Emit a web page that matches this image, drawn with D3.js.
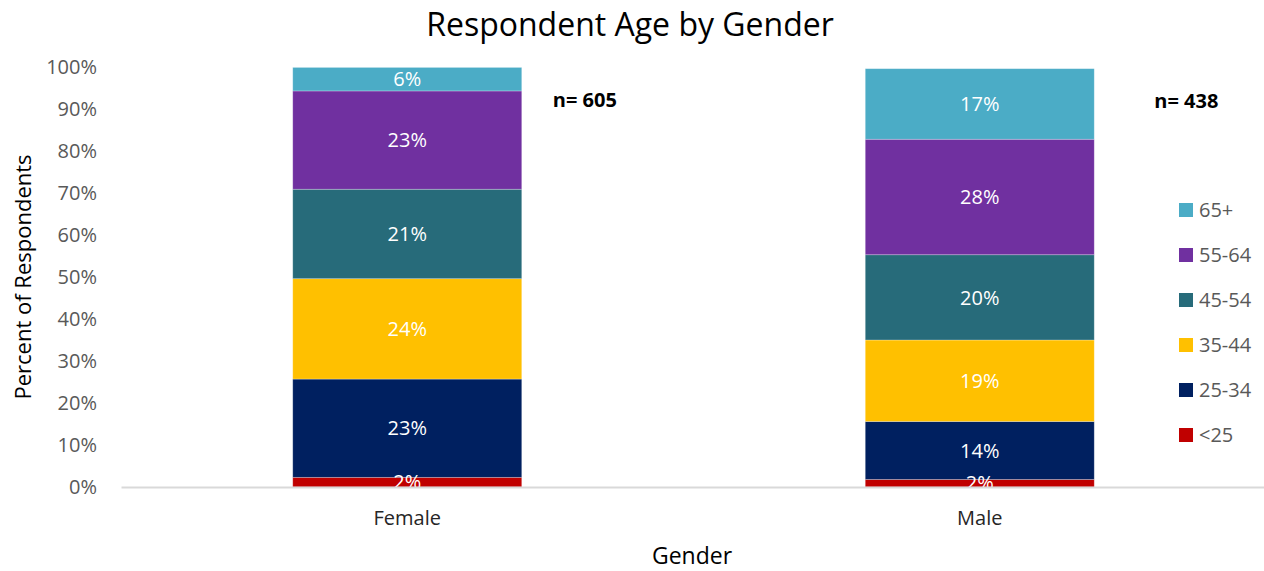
<!DOCTYPE html>
<html>
<head>
<meta charset="utf-8">
<script src="https://cdn.jsdelivr.net/npm/d3@7"></script>
<style>
  body { margin: 0; background: #fff; }
  svg { display: block; font-family: "Open Sans", sans-serif; }
</style>
</head>
<body>
<div id="chart"></div>
<script>
const genders = ["Female", "Male"]
const ageGroups = ["<25", "25-34", "35-44", "45-54", "55-64", "65+"]
const female = [2.3, 23.4, 23.9, 21.3, 23.4, 5.6]
const male = [1.8, 13.8, 19.4, 20.3, 27.5, 16.8]
const sampleSizes = [605, 438]
const yTicks = [0, 10, 20, 30, 40, 50, 60, 70, 80, 90, 100]
const colors = ["#c00000", "#002060", "#ffc000", "#276b7a", "#7030a0", "#4bacc6"]

const width = 1264, height = 571
const margin = {top: 67, right: 0, bottom: 84, left: 121}

const svg = d3.select("#chart").append("svg")
  .attr("width", width)
  .attr("height", height)

const x = d3.scaleBand()
  .domain(genders)
  .range([margin.left, 1266])
  .paddingInner(0.6)
  .paddingOuter(0.3)

const y = d3.scaleLinear()
  .domain([0, 100])
  .range([height - margin.bottom, margin.top])

const color = d3.scaleOrdinal().domain(ageGroups).range(colors)

// rows for the stack
const rows = genders.map((g, i) => {
  const src = i === 0 ? female : male
  const row = {gender: g}
  ageGroups.forEach((a, j) => row[a] = src[j])
  return row
})
const series = d3.stack().keys(ageGroups)(rows)

svg.append("defs").append("clipPath").attr("id", "plot")
  .append("rect")
  .attr("x", 0).attr("y", 0)
  .attr("width", width).attr("height", y(0))

// title
svg.append("text")
  .attr("x", 630).attr("y", 36)
  .attr("text-anchor", "middle")
  .style("font-size", "32px")
  .attr("fill", "#000")
  .text("Respondent Age by Gender")

// y axis (labels only)
const yAxis = svg.append("g")
  .attr("transform", `translate(${margin.left - 24},0)`)
  .call(d3.axisLeft(y).tickValues(yTicks).tickFormat(d => d + "%").tickSize(0))
yAxis.select(".domain").remove()
yAxis.selectAll("text")
  .attr("x", 0)
  .style("font-size", "20px")
  .style("font-family", "Open Sans")
  .attr("fill", "#595959")

// bars
const layer = svg.append("g").selectAll("g")
  .data(series)
  .join("g")
    .attr("fill", d => color(d.key))

layer.selectAll("rect")
  .data(d => d)
  .join("rect")
    .attr("x", d => x(d.data.gender))
    .attr("y", d => y(d[1]))
    .attr("width", x.bandwidth())
    .attr("height", d => y(d[0]) - y(d[1]))
    .attr("stroke", "#ffffff")
    .attr("stroke-opacity", 0.35)
    .attr("stroke-width", 0.75)

// data labels
const labels = svg.append("g").attr("clip-path", "url(#plot)")
series.forEach(s => {
  s.forEach(d => {
    labels.append("text")
      .attr("x", x(d.data.gender) + x.bandwidth() / 2)
      .attr("y", (y(d[0]) + y(d[1])) / 2)
      .attr("dy", "0.36em")
      .attr("text-anchor", "middle")
      .style("font-size", "20px")
      .attr("fill", "#ffffff")
      .text(Math.round(d[1] - d[0]) + "%")
  })
})

// x axis
const xAxis = svg.append("g")
  .attr("transform", `translate(0,${y(0)})`)
  .call(d3.axisBottom(x).tickSize(0).tickPadding(24))
xAxis.select(".domain")
  .attr("stroke", "#d9d9d9")
  .attr("stroke-width", 2)
xAxis.selectAll("text")
  .style("font-size", "20px")
  .style("font-family", "Open Sans")
  .attr("fill", "#262626")

// axis titles
svg.append("text")
  .attr("x", 692).attr("y", 564)
  .attr("text-anchor", "middle")
  .style("font-size", "23px")
  .attr("fill", "#000")
  .text("Gender")

svg.append("text")
  .attr("transform", "translate(31,277) rotate(-90)")
  .attr("text-anchor", "middle")
  .style("font-size", "22px")
  .attr("fill", "#000")
  .text("Percent of Respondents")

// sample sizes
svg.append("g").selectAll("text")
  .data(genders)
  .join("text")
    .attr("x", d => x(d) + x.bandwidth() + 31 + (d === "Male" ? 29 : 0))
    .attr("y", (d, i) => 107 + i)
    .style("font-size", "20px")
    .style("font-weight", "bold")
    .attr("fill", "#000")
    .text((d, i) => "n= " + sampleSizes[i])

// legend
const legend = svg.append("g")
  .attr("transform", "translate(1179,210)")
const items = legend.selectAll("g")
  .data(ageGroups.slice().reverse())
  .join("g")
    .attr("transform", (d, i) => `translate(0,${i * 45})`)
items.append("rect")
  .attr("x", 0).attr("y", -7)
  .attr("width", 14).attr("height", 14)
  .attr("fill", d => color(d))
items.append("text")
  .attr("x", 20).attr("y", 0)
  .attr("dy", "0.36em")
  .style("font-size", "20px")
  .attr("fill", "#595959")
  .text(d => d)
</script>
</body>
</html>
